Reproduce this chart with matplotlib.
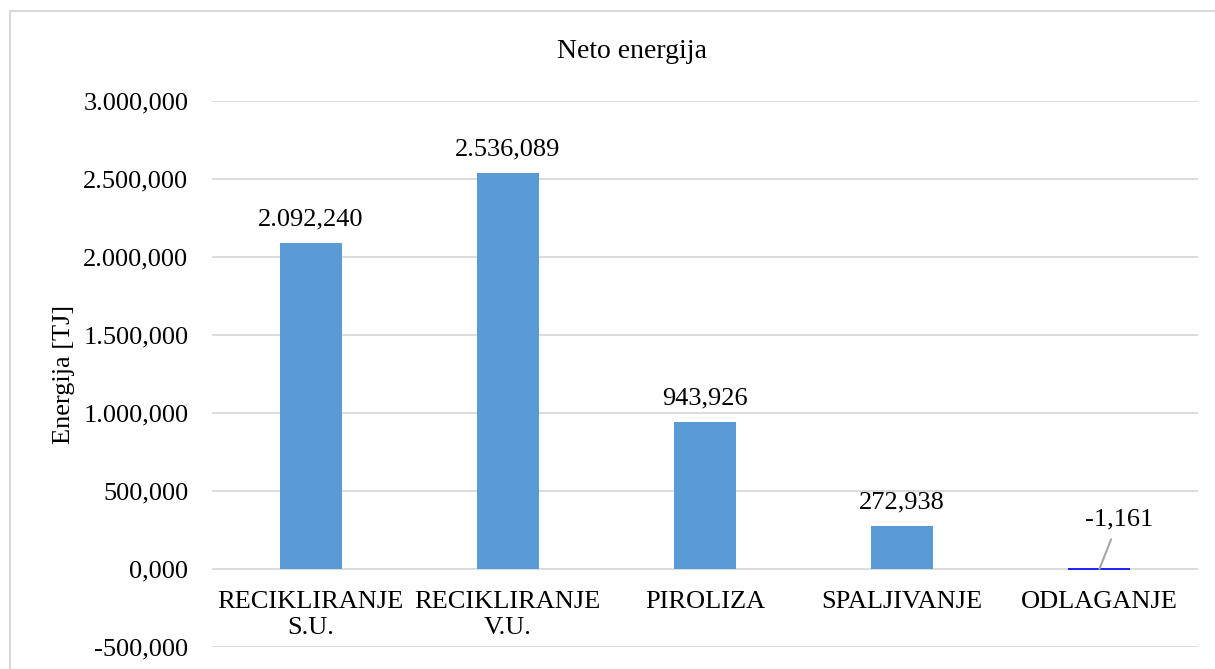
import matplotlib
matplotlib.use('Agg')
import matplotlib.pyplot as plt
from matplotlib.patches import Rectangle
from matplotlib.ticker import FuncFormatter

plt.rcParams['font.family'] = ['Liberation Serif', 'DejaVu Serif']

# podaci
categories = ['RECIKLIRANJE\nS.U.', 'RECIKLIRANJE\nV.U.', 'PIROLIZA', 'SPALJIVANJE', 'ODLAGANJE']
values = [2092.240, 2536.089, 943.926, 272.938, -1.161]
y_ticks = [-500, 0, 500, 1000, 1500, 2000, 2500, 3000]


def eu_fmt(v, pos=None):
    # 2,092.240 -> 2.092,240
    s = f'{v:,.3f}'
    return s.replace(',', 'X').replace('.', ',').replace('X', '.')


fig = plt.figure(figsize=(12.15, 6.69), dpi=100)
ax = fig.add_axes([212 / 1215, 1 - 647 / 669, (1198 - 212) / 1215, (647 - 101) / 669])

x = list(range(len(categories)))
bar_colors = ['#5B9BD5'] * (len(values) - 1) + ['#0000FF']
bars = ax.bar(x, values, width=0.314, color=bar_colors, zorder=3)
bars[-1].set_edgecolor('#0000FF')
bars[-1].set_linewidth(1.2)

ax.set_xlim(-0.5, len(categories) - 0.5)
ax.set_ylim(-500, 3000)
ax.set_yticks(y_ticks)
ax.yaxis.set_major_formatter(FuncFormatter(eu_fmt))
ax.set_xticks(x)
ax.set_xticklabels(categories)

ax.grid(axis='y', color='#D9D9D9', linewidth=1.3, zorder=0)
ax.set_axisbelow(True)
# x-os na nuli, kao u Excelu
ax.spines['bottom'].set_position(('data', 0))
for sp in ax.spines.values():
    sp.set_visible(False)
ax.tick_params(axis='both', length=0, labelsize=19, colors='black')
ax.tick_params(axis='y', pad=17)
ax.tick_params(axis='x', pad=16)

# oznake vrijednosti
for xi, v in zip(x[:-1], values[:-1]):
    ax.annotate(eu_fmt(v), xy=(xi, v), xytext=(0, 9), textcoords='offset points',
                ha='center', va='bottom', fontsize=19)

ax.annotate(eu_fmt(values[-1]), xy=(x[-1], 0), xytext=(x[-1] + 0.1, 320),
            textcoords='data', ha='center', va='center', fontsize=19,
            arrowprops=dict(arrowstyle='-', color='#A6A6A6', lw=1.5, shrinkA=5, shrinkB=0))

ax.set_ylabel('Energija [TJ]', fontsize=19, labelpad=0)
ax.yaxis.set_label_coords(-(212 - 75) / 986, 0.5)
fig.text(632 / 1215, 1 - 52 / 669, 'Neto energija', fontsize=20, ha='center', va='center')

fig.add_artist(Rectangle((10 / 1215, -0.1), 1.2, (669 - 11) / 669 + 0.1,
                         transform=fig.transFigure, fill=False,
                         edgecolor='#D9D9D9', linewidth=1.5))

plt.savefig('out.png', dpi=100)
plt.close()
